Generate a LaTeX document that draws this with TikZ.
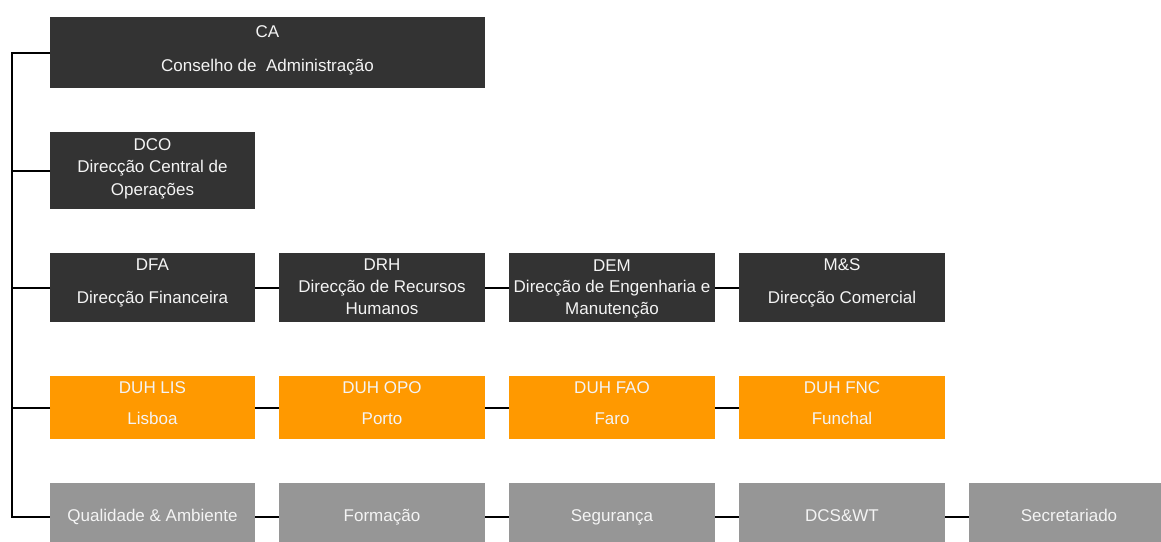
\documentclass[tikz,border=0pt]{standalone}
\usepackage{fontspec}
\setmainfont{Liberation Sans}
\definecolor{darkbox}{HTML}{333333}
\definecolor{orangebox}{HTML}{FF9900}
\definecolor{graybox}{HTML}{969696}
\definecolor{txtcol}{HTML}{F4F4F4}
\begin{document}
\begin{tikzpicture}[x=1pt,y=-1pt,
  box/.style={rectangle, inner sep=0pt, outer sep=0pt, draw=none},
  dbox/.style={box, fill=darkbox},
  obox/.style={box, fill=orangebox},
  gbox/.style={box, fill=graybox},
  txt/.style={inner sep=0pt, text=txtcol, font=\fontsize{17}{20}\selectfont, text height=12pt, text depth=0pt, anchor=center},
  conn/.style={draw=black, line width=2pt}
]
\clip (0,0) rectangle (1161,541);
\fill[white] (0,0) rectangle (1161,541);

% Row 1: CA
\node[dbox, minimum width=435pt, minimum height=71pt] (ca) at (267.5,52.5) {};
\node[txt] (catitle) at (267.5,31) {CA};
\node[txt] (catext) at (267.5,65) {Conselho de \ Administração};

% Row 2: DCO
\node[dbox, minimum width=205pt, minimum height=77pt] (dco) at (152.5,170.5) {};
\node[txt] (dcot) at (152.5,144) {DCO};
\node[txt] (dco1) at (152.5,166) {Direcção Central de};
\node[txt] (dco2) at (152.5,189) {Operações};

% Row 3
\node[dbox, minimum width=205pt, minimum height=69pt] (dfa) at (152.5,287.5) {};
\node[txt] (dfat) at (152.5,264) {DFA};
\node[txt] (dfa1) at (152.5,297) {Direcção Financeira};

\node[dbox, minimum width=206pt, minimum height=69pt] (drh) at (382,287.5) {};
\node[txt] (drht) at (382,264) {DRH};
\node[txt] (drh1) at (382,286) {Direcção de Recursos};
\node[txt] (drh2) at (382,308) {Humanos};

\node[dbox, minimum width=206pt, minimum height=69pt] (dem) at (612,287.5) {};
\node[txt] (demt) at (612,265) {DEM};
\node[txt] (dem1) at (612,286) {Direcção de Engenharia e};
\node[txt] (dem2) at (612,308) {Manutenção};

\node[dbox, minimum width=206pt, minimum height=69pt] (ms) at (842,287.5) {};
\node[txt] (mst) at (842,264) {M\&S};
\node[txt] (ms1) at (842,297) {Direcção Comercial};

% Row 4: orange
\node[obox, minimum width=205pt, minimum height=63pt] (lis) at (152.5,407.5) {};
\node[txt] (list) at (152.5,387) {DUH LIS};
\node[txt] (lis1) at (152.5,418) {Lisboa};

\node[obox, minimum width=206pt, minimum height=63pt] (opo) at (382,407.5) {};
\node[txt] (opot) at (382,387) {DUH OPO};
\node[txt] (opo1) at (382,418) {Porto};

\node[obox, minimum width=206pt, minimum height=63pt] (fao) at (612,407.5) {};
\node[txt] (faot) at (612,387) {DUH FAO};
\node[txt] (fao1) at (612,418) {Faro};

\node[obox, minimum width=206pt, minimum height=63pt] (fnc) at (842,407.5) {};
\node[txt] (fnct) at (842,387) {DUH FNC};
\node[txt] (fnc1) at (842,418) {Funchal};

% Row 5: gray
\node[gbox, minimum width=205pt, minimum height=68pt] (qa) at (152.5,517) {};
\node[txt] (qat) at (152.5,515) {Qualidade \& Ambiente};

\node[gbox, minimum width=206pt, minimum height=68pt] (form) at (382,517) {};
\node[txt] (formt) at (382,515) {Formação};

\node[gbox, minimum width=206pt, minimum height=68pt] (seg) at (612,517) {};
\node[txt] (segt) at (612,515) {Segurança};

\node[gbox, minimum width=206pt, minimum height=68pt] (dcs) at (842,517) {};
\node[txt] (dcst) at (842,515) {DCS\&WT};

\node[gbox, minimum width=206pt, minimum height=68pt] (sec) at (1072,517) {};
\node[txt] (sect) at (1069,515) {Secretariado};

% Trunk
\coordinate (trunktop) at (12,52.5);
\coordinate (trunkbot) at (12,517);
\draw[conn, line join=miter] (ca.west) -- (trunktop) -- (trunkbot) -- (qa.west);
\draw[conn] (dco.west) -- (dco.west -| trunktop);
\draw[conn] (dfa.west) -- (dfa.west -| trunktop);
\draw[conn] (lis.west) -- (lis.west -| trunktop);

% Row connectors
\draw[conn] (dfa.east) -- (drh.west);
\draw[conn] (drh.east) -- (dem.west);
\draw[conn] (dem.east) -- (ms.west);
\draw[conn] (lis.east) -- (opo.west);
\draw[conn] (opo.east) -- (fao.west);
\draw[conn] (fao.east) -- (fnc.west);
\draw[conn] (qa.east) -- (form.west);
\draw[conn] (form.east) -- (seg.west);
\draw[conn] (seg.east) -- (dcs.west);
\draw[conn] (dcs.east) -- (sec.west);
\end{tikzpicture}
\end{document}
